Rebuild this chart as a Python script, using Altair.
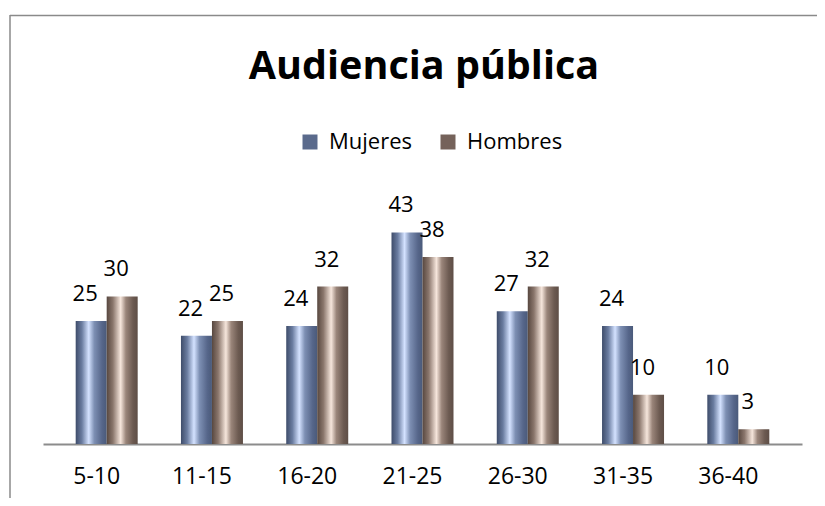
import altair as alt
import pandas as pd

categories = ["5-10", "11-15", "16-20", "21-25", "26-30", "31-35", "36-40"]
mujeres = [25, 22, 24, 43, 27, 24, 10]
hombres = [30, 25, 32, 38, 32, 10, 3]
series = ["Mujeres", "Hombres"]
solid_colors = ["#5a6a8c", "#75625a"]
title_text = "Audiencia pública"

rows = []
for c, m, h in zip(categories, mujeres, hombres):
    rows.append({"cat": c, "serie": "Mujeres", "valor": m})
    rows.append({"cat": c, "serie": "Hombres", "valor": h})
df = pd.DataFrame(rows)

FONT = "Open Sans"

grad_m = {
    "gradient": "linear", "x1": 0, "x2": 1, "y1": 0, "y2": 0,
    "stops": [
        {"offset": 0.0, "color": "#3e4c6a"},
        {"offset": 0.2, "color": "#6a7ca0"},
        {"offset": 0.42, "color": "#d4e2ff"},
        {"offset": 0.6, "color": "#7d8fb3"},
        {"offset": 0.85, "color": "#56668a"},
        {"offset": 1.0, "color": "#4a5a7a"},
    ],
}
grad_h = {
    "gradient": "linear", "x1": 0, "x2": 1, "y1": 0, "y2": 0,
    "stops": [
        {"offset": 0.0, "color": "#57473f"},
        {"offset": 0.2, "color": "#8a766c"},
        {"offset": 0.45, "color": "#f6e6dc"},
        {"offset": 0.62, "color": "#9a857a"},
        {"offset": 0.85, "color": "#6c5a51"},
        {"offset": 1.0, "color": "#5e4e46"},
    ],
}

x_enc = alt.X("cat:N", sort=categories,
              scale=alt.Scale(domain=categories, paddingInner=0, paddingOuter=0.105),
              axis=alt.Axis(title=None, labelAngle=0, ticks=False, grid=False,
                            domainColor="#8c8c8c", domainWidth=2,
                            labelFont=FONT, labelFontSize=23, labelColor="#000000",
                            labelPadding=21, labelOffset=-10))
xo_enc = alt.XOffset("serie:N", sort=series,
                     scale=alt.Scale(domain=series, paddingInner=0, paddingOuter=0.698))
y_enc = alt.Y("valor:Q", scale=alt.Scale(domain=[0, 50]), axis=None)

base = alt.Chart(df)

bars_m = base.transform_filter(alt.datum.serie == "Mujeres").mark_bar(
    fill=grad_m).encode(x=x_enc, xOffset=xo_enc, y=y_enc)
bars_h = base.transform_filter(alt.datum.serie == "Hombres").mark_bar(
    fill=grad_h).encode(x=x_enc, xOffset=xo_enc, y=y_enc)

labels = base.mark_text(font=FONT, fontSize=22, color="#000000",
                        baseline="alphabetic", dx=-6, dy=-20).encode(
    x=x_enc, xOffset=xo_enc, y=y_enc, text="valor:Q")

legend_layer = base.mark_square(opacity=0, size=10).encode(
    x=x_enc, xOffset=xo_enc, y=y_enc,
    color=alt.Color("serie:N", sort=series,
                    scale=alt.Scale(domain=series, range=solid_colors),
                    legend=alt.Legend(title=None, orient="none", direction="horizontal",
                                      legendX=256, legendY=-67, padding=0,
                                      symbolType="square", symbolSize=225,
                                      symbolOpacity=1, symbolStrokeWidth=0,
                                      labelFont=FONT, labelFontSize=22,
                                      labelColor="#000000", labelOffset=8,
                                      columnPadding=24, symbolOffset=0)))

deco_df = pd.DataFrame({"t": [title_text]})
frame_top = alt.Chart(deco_df).mark_rule(stroke="#8a8a8a", strokeWidth=1.5).encode(
    x=alt.value(-33), x2=alt.value(900), y=alt.value(-182.5))
frame_left = alt.Chart(deco_df).mark_rule(stroke="#8a8a8a", strokeWidth=1.5).encode(
    x=alt.value(-33), y=alt.value(-183), y2=alt.value(500))
title = alt.Chart(deco_df).mark_text(font=FONT, fontSize=39.5, fontWeight="bold",
                                     color="#000000", align="center",
                                     baseline="alphabetic").encode(
    x=alt.value(381), y=alt.value(-119), text="t:N")

chart = alt.layer(frame_top, frame_left, title, bars_m, bars_h, labels,
                  legend_layer).properties(
    width=759, height=246,
    autosize=alt.AutoSizeParams(type="none"),
    padding={"left": 35, "top": 190, "right": 15, "bottom": 54},
).configure(background="#ffffff").configure_view(stroke=None)

chart.save("out.html", embed_options={"renderer": "svg", "actions": False})
